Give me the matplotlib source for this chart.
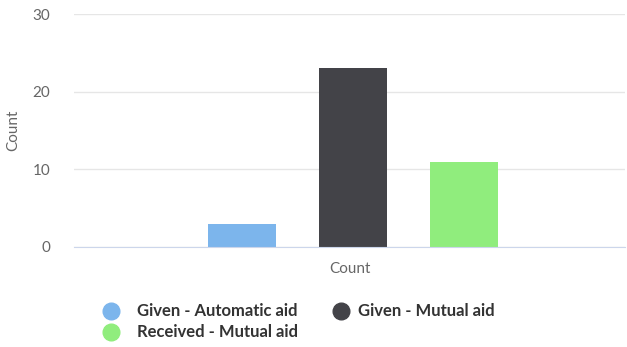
import matplotlib
matplotlib.use("Agg")
import matplotlib.pyplot as plt
from matplotlib.lines import Line2D

series = ["Given - Automatic aid", "Given - Mutual aid", "Received - Mutual aid"]
values = [3, 23, 11]
colors = ["#7cb5ec", "#434348", "#90ed7d"]
yticks = [0, 10, 20, 30]

plt.rcParams["font.family"] = ["Lato", "DejaVu Sans"]

fig = plt.figure(figsize=(6.27, 3.47), dpi=100)
ax = fig.add_axes([74 / 627, 1 - 247 / 347, 551 / 627, 233 / 347])

pos = [-1, 0, 1]
ax.bar(pos, values, width=0.613, color=colors, zorder=3)

ax.set_xlim(-2.51, 2.45)
ax.set_ylim(0, 30)
ax.set_yticks(yticks)
ax.grid(axis="y", color="#e6e6e6", linewidth=1, zorder=0)
for s in ["top", "right", "left"]:
    ax.spines[s].set_visible(False)
ax.spines["bottom"].set_color("#ccd6eb")
ax.spines["bottom"].set_zorder(4)
ax.tick_params(axis="y", length=0, labelsize=11, labelcolor="#666666", pad=17)
ax.set_xticks([])
ax.set_xlabel("Count", fontsize=11, color="#666666", labelpad=11)
ax.set_ylabel("Count", fontsize=11, color="#666666", labelpad=9)

# legend drawn by hand to match layout
legend_pos = [(111, 311), (341, 311), (111, 332)]
for (x, y), name, c in zip(legend_pos, series, colors):
    fx, fy = x / 627, 1 - y / 347
    fig.add_artist(Line2D([fx], [fy], marker="o", markersize=12, color=c,
                          linestyle="none", transform=fig.transFigure))
    fig.text(fx + (26 if x < 300 else 17) / 627, fy, name, fontsize=12,
             fontweight="bold", color="#333333", va="center", ha="left")

fig.savefig("out.png", dpi=100)
